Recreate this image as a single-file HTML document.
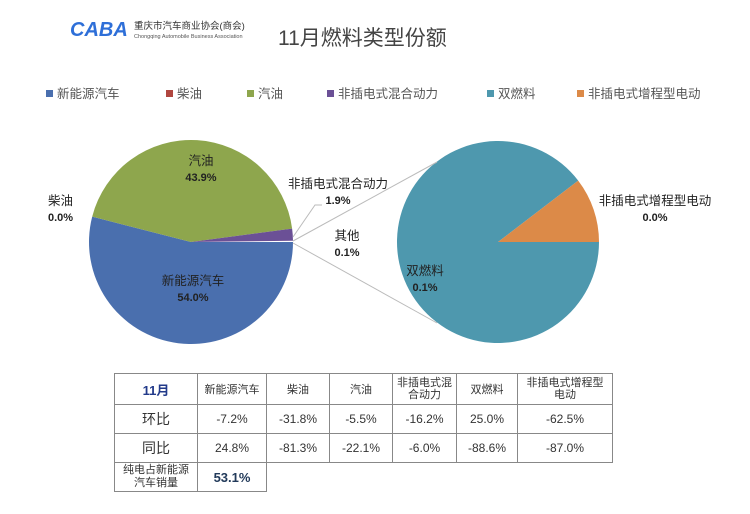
<!DOCTYPE html>
<html><head><meta charset="utf-8"><style>
body{margin:0;width:750px;height:509px;background:#fff;overflow:hidden;font-family:"Liberation Sans","Noto Sans CJK SC",sans-serif;}
svg text{font-family:"Liberation Sans","Noto Sans CJK SC",sans-serif;}
</style></head><body>
<svg id="c" width="750" height="509">
<g>
<text x="70" y="36" font-size="20" font-weight="bold" font-style="italic" fill="#2e6fd8">CABA</text>
<text x="134" y="29" font-size="9.5" fill="#333">重庆市汽车商业协会(商会)</text>
<text x="134" y="38" font-size="5.5" fill="#555">Chongqing Automobile Business Association</text>
</g>
<text x="278" y="45" font-size="21" fill="#444">11月燃料类型份额</text>
<g id="legend"></g>
<g id="pies"></g>
</svg>
<table style="position:absolute;left:114px;top:373px;border-collapse:collapse;font-size:11px;color:#333;text-align:center;">
<colgroup><col style="width:83px"><col style="width:69px"><col style="width:63px"><col style="width:63px"><col style="width:64px"><col style="width:61px"><col style="width:95px"></colgroup>
<tr style="height:31px"><td style="border:1px solid #888;color:#223a8a;font-weight:bold;font-size:13px">11月</td><td style="border:1px solid #888">新能源汽车</td><td style="border:1px solid #888">柴油</td><td style="border:1px solid #888">汽油</td><td style="border:1px solid #888;line-height:12px">非插电式混<br>合动力</td><td style="border:1px solid #888">双燃料</td><td style="border:1px solid #888;line-height:12px">非插电式增程型<br>电动</td></tr>
<tr style="height:29px;font-size:12px"><td style="border:1px solid #888;font-size:14px">环比</td><td style="border:1px solid #888">-7.2%</td><td style="border:1px solid #888">-31.8%</td><td style="border:1px solid #888">-5.5%</td><td style="border:1px solid #888">-16.2%</td><td style="border:1px solid #888">25.0%</td><td style="border:1px solid #888">-62.5%</td></tr>
<tr style="height:29px;font-size:12px"><td style="border:1px solid #888;font-size:14px">同比</td><td style="border:1px solid #888">24.8%</td><td style="border:1px solid #888">-81.3%</td><td style="border:1px solid #888">-22.1%</td><td style="border:1px solid #888">-6.0%</td><td style="border:1px solid #888">-88.6%</td><td style="border:1px solid #888">-87.0%</td></tr>
<tr style="height:29px"><td style="border:1px solid #888;line-height:13px;font-size:11px">纯电占新能源<br>汽车销量</td><td style="border:1px solid #888;font-weight:bold;color:#223a5a;font-size:13px">53.1%</td><td colspan="5" style="border:none"></td></tr>
</table>
<script>
const legendNames=["新能源汽车","柴油","汽油","非插电式混合动力","双燃料","非插电式增程型电动"];
const legendColors=["#4a6fae","#b0463f","#8ea64d","#6b5096","#4e98ae","#dc8a48"];
const legendX=[46,166,247,327,487,577];
const mainLabels=["新能源汽车","柴油","汽油","非插电式混合动力","其他"];
const mainValues=[54.0,0.0,43.9,1.9,0.2];
const subLabels=["双燃料","非插电式增程型电动"];
const subValues=[89.6,10.4];
const NS="http://www.w3.org/2000/svg";
function mk(t,a,p){const e=document.createElementNS(NS,t);for(const k in a)e.setAttribute(k,a[k]);p.appendChild(e);return e;}
const lg=document.getElementById('legend');
legendNames.forEach((n,i)=>{
 const r=mk('rect',{x:legendX[i],y:90,width:7,height:7,fill:legendColors[i]},lg);
 
 
 const t=mk('text',{x:legendX[i]+11,y:98,'font-size':12.5,fill:'#555'},lg);
 t.textContent=n;
 
 
});
const pg=document.getElementById('pies');
function pt(cx,cy,r,deg){const a=deg*Math.PI/180;return [cx+r*Math.cos(a),cy+r*Math.sin(a)];}
function slice(cx,cy,r,a0,a1,fill){
 if(a1-a0<=0.001)return null;
 const p0=pt(cx,cy,r,a0),p1=pt(cx,cy,r,a1);
 return mk('path',{d:`M${cx},${cy}L${p0[0]},${p0[1]}A${r},${r} 0 ${a1-a0>180?1:0} 1 ${p1[0]},${p1[1]}Z`,fill:fill},pg);
}
const L={cx:191,cy:242,r:102};
const mainColors=[legendColors[0],legendColors[1],legendColors[2],legendColors[3],"#ffffff"];
const mtot=mainValues.reduce((a,b)=>a+b,0);
let a=0;
mainValues.forEach((v,i)=>{
 const s=v/mtot*360;
 if(i<4){const p=slice(L.cx,L.cy,L.r,a,a+s,mainColors[i]);
  if(p){
  }}
 a+=s;
});
const R={cx:498,cy:242,r:101};
const stot=subValues.reduce((a,b)=>a+b,0);
const subColors=[legendColors[4],legendColors[5]];
let b=0;
const ang=[];
subValues.forEach((v,i)=>{
 const s=v/stot*360;
 const start=(i==0)?0:-s;
 const p=slice(R.cx,R.cy,R.r,i==0?0:360-s,i==0?360-subValues[1]/stot*360:360,subColors[i]);
 if(p){
 }
});
// connector lines
const d=Math.hypot(R.cx-L.cx-L.r,0);
const c1=mk('line',{x1:L.cx+L.r,y1:L.cy-1,x2:437,y2:162,stroke:'#bbb','stroke-width':1},pg);


const c2=mk('line',{x1:L.cx+L.r,y1:L.cy+1,x2:437,y2:323,stroke:'#bbb','stroke-width':1},pg);


const c3=mk('polyline',{points:`${L.cx+L.r},${L.cy-5} 315,205 322,205`,fill:'none',stroke:'#bbb'},pg);


const labels=[
 [mainLabels[0],mainValues[0],193,285,'middle'],
 [mainLabels[1],mainValues[1],48,205,'start'],
 [mainLabels[2],mainValues[2],201,165,'middle'],
 [mainLabels[3],mainValues[3],338,188,'middle'],
 [mainLabels[4],0.1,347,240,'middle'],
 [subLabels[0],0.1,425,275,'middle'],
 [subLabels[1],0.0,655,205,'middle']];
labels.forEach(l=>{
 const t=mk('text',{x:l[2],y:l[3],'font-size':12.5,fill:'#222','text-anchor':l[4]},pg);
 t.textContent=l[0];
 
 
 const t2=mk('text',{x:l[4]=='start'?l[2]:l[2],y:l[3]+16,'font-size':11,'font-weight':'bold',fill:'#222','text-anchor':l[4]},pg);
 t2.textContent=l[1].toFixed(1)+'%';
 
 
});
</script>
</body></html>
